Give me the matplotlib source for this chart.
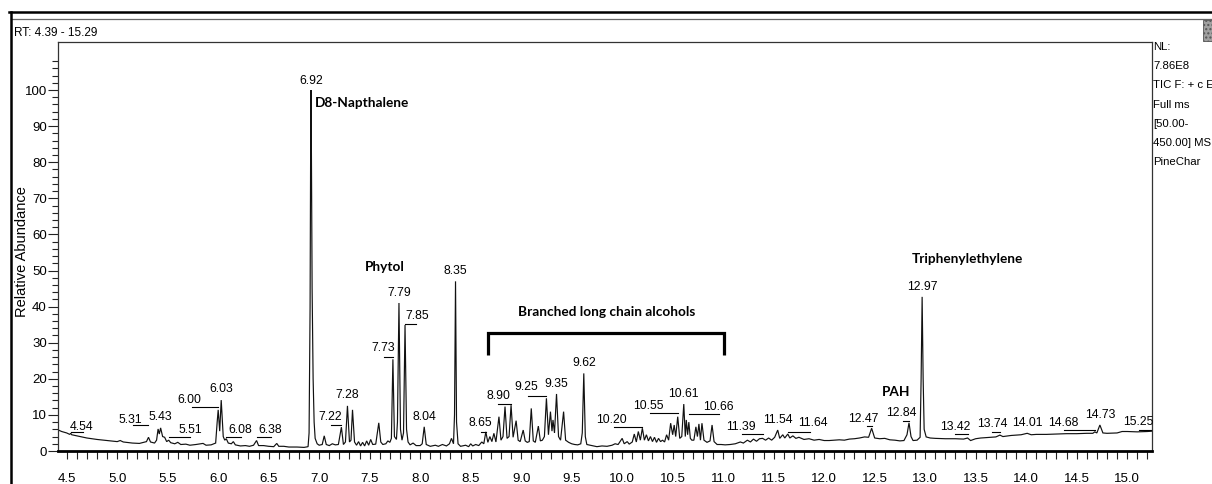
import matplotlib
matplotlib.use("Agg")
import matplotlib.pyplot as plt
from matplotlib.lines import Line2D
from matplotlib.patches import Rectangle
from matplotlib import font_manager
from matplotlib.ticker import MultipleLocator, FixedLocator, FormatStrFormatter

# ---------------------------------------------------------------- data
# Total ion chromatogram, retention time (min) vs relative abundance (%)
rt_early = [4.41, 4.45, 4.50, 4.53, 4.54, 4.55, 4.60, 4.70, 4.80, 4.90, 5.00, 5.03, 5.06,
            5.15, 5.22, 5.26, 5.29, 5.31, 5.33, 5.37, 5.39, 5.405, 5.417, 5.43, 5.45,
            5.47, 5.49, 5.51, 5.53, 5.57, 5.60, 5.63, 5.68, 5.72, 5.78, 5.85, 5.88, 5.93,
            5.975, 5.99, 6.00, 6.015, 6.03, 6.05, 6.065, 6.08, 6.10, 6.13, 6.15, 6.17,
            6.22, 6.27, 6.31, 6.35, 6.38, 6.40, 6.45, 6.50, 6.55, 6.58, 6.60, 6.65,
            6.70, 6.78, 6.85, 6.89]
ab_early = [5.9, 5.4, 5.0, 4.6, 4.9, 4.5, 4.2, 3.6, 3.2, 2.9, 2.6, 2.9, 2.5,
            2.2, 2.1, 2.4, 2.6, 3.8, 2.5, 2.2, 3.0, 6.1, 4.7, 6.4, 4.0,
            3.8, 2.6, 3.0, 2.3, 2.0, 2.4, 1.8, 1.9, 1.6, 1.8, 2.1, 1.6, 1.7,
            2.2, 8.0, 11.4, 5.5, 14.1, 4.0, 3.0, 3.4, 2.2, 2.0, 2.6, 1.7,
            1.4, 1.5, 1.3, 1.6, 2.9, 1.5, 1.5, 1.3, 1.2, 2.1, 1.3, 1.3,
            1.1, 1.1, 1.0, 1.2]

rt_mid = [6.90, 6.91, 6.915, 6.92, 6.925, 6.93, 6.94, 6.95, 6.96, 6.98, 7.00, 7.03,
          7.05, 7.07, 7.10, 7.13, 7.16, 7.19, 7.22, 7.24, 7.26, 7.28, 7.30, 7.315,
          7.33, 7.35, 7.37, 7.39, 7.41, 7.43, 7.45, 7.47, 7.49, 7.51, 7.53, 7.56,
          7.59, 7.61, 7.63, 7.66, 7.68, 7.70, 7.715, 7.73, 7.745, 7.765, 7.775, 7.79,
          7.805, 7.82, 7.835, 7.85, 7.865, 7.88, 7.90, 7.93, 7.96, 8.00, 8.02, 8.04,
          8.06, 8.10, 8.15, 8.18, 8.22, 8.26, 8.29, 8.31, 8.33, 8.34, 8.35, 8.36,
          8.375, 8.40, 8.45, 8.48, 8.50, 8.52, 8.55, 8.58, 8.61, 8.63]
ab_mid = [5.0, 40.0, 80.0, 100.0, 70.0, 45.0, 20.0, 8.0, 3.5, 2.0, 1.6, 1.8,
          4.2, 1.8, 1.5, 2.0, 1.7, 1.8, 6.6, 1.8, 2.5, 12.5, 2.5, 3.0,
          11.4, 2.5, 1.6, 2.6, 1.4, 2.4, 1.4, 2.8, 1.6, 3.2, 1.8, 1.9,
          7.8, 2.5, 1.8, 2.0, 2.8, 2.4, 3.5, 25.4, 4.0, 3.2, 8.0, 41.0,
          6.0, 3.0, 5.0, 34.9, 6.0, 2.5, 1.7, 2.2, 1.5, 1.5, 2.0, 6.7,
          1.8, 1.3, 1.6, 1.3, 1.8, 1.4, 2.0, 3.5, 2.0, 10.0, 47.0, 8.0,
          2.0, 1.3, 1.6, 1.2, 2.0, 1.4, 1.8, 1.5, 2.5, 2.0]

rt_alcohols = [8.65, 8.67, 8.69, 8.71, 8.73, 8.75, 8.78, 8.80, 8.82, 8.84, 8.86, 8.88,
               8.90, 8.92, 8.95, 8.97, 8.99, 9.02, 9.04, 9.06, 9.08, 9.10, 9.12, 9.14,
               9.17, 9.19, 9.21, 9.23, 9.25, 9.27, 9.29, 9.305, 9.315, 9.33, 9.35, 9.37,
               9.39, 9.42, 9.44, 9.47, 9.50, 9.53, 9.56, 9.59, 9.605, 9.62, 9.635, 9.65,
               9.70, 9.75, 9.80, 9.85, 9.90, 9.93, 9.96, 10.00, 10.02, 10.05, 10.07, 10.10,
               10.12, 10.14, 10.16, 10.18, 10.20, 10.22, 10.24, 10.26, 10.28, 10.30, 10.32,
               10.34, 10.36, 10.38, 10.40, 10.42, 10.44, 10.46, 10.48, 10.50, 10.515, 10.53,
               10.55, 10.57, 10.59, 10.61, 10.625, 10.635, 10.648, 10.66, 10.675, 10.69,
               10.71, 10.73, 10.745, 10.76, 10.775, 10.79, 10.81, 10.84, 10.87, 10.89,
               10.91, 10.94, 10.98]
ab_alcohols = [5.3, 2.4, 4.0, 2.6, 4.9, 2.5, 9.5, 3.0, 4.0, 12.3, 3.5, 4.0,
               12.7, 3.8, 8.4, 3.0, 2.6, 5.8, 2.8, 2.4, 2.6, 11.8, 2.8, 2.4,
               6.9, 2.8, 3.0, 4.0, 14.6, 4.5, 10.9, 5.5, 8.6, 5.0, 15.8, 4.0,
               3.0, 10.9, 3.0, 2.4, 2.0, 1.8, 1.7, 2.0, 5.0, 21.5, 4.0, 1.8,
               1.5, 1.2, 1.4, 1.3, 1.6, 2.0, 1.8, 3.5, 2.0, 2.6, 1.9, 2.5,
               4.7, 2.5, 5.4, 3.0, 6.3, 3.0, 4.5, 2.8, 4.0, 2.6, 3.8,
               2.4, 3.5, 2.6, 3.0, 2.5, 4.5, 3.0, 7.7, 4.5, 7.2, 4.0,
               9.5, 3.5, 4.0, 13.0, 4.0, 8.6, 4.5, 8.0, 3.5, 3.0,
               3.0, 6.7, 4.0, 7.5, 3.0, 7.7, 3.0, 2.4, 2.8, 7.2,
               2.6, 1.8, 1.8]

rt_late = [11.02, 11.07, 11.12, 11.17, 11.20, 11.24, 11.27, 11.30, 11.33, 11.36, 11.39,
           11.42, 11.45, 11.48, 11.51, 11.54, 11.56, 11.59, 11.61, 11.64, 11.66, 11.69,
           11.72, 11.75, 11.80, 11.85, 11.90, 11.95, 12.00, 12.05, 12.10, 12.15, 12.20,
           12.25, 12.30, 12.35, 12.40, 12.44, 12.47, 12.50, 12.55, 12.60, 12.65, 12.70,
           12.75, 12.79, 12.82, 12.84, 12.86, 12.88, 12.92, 12.95, 12.96, 12.97, 12.98,
           12.99, 13.01, 13.05, 13.10, 13.20, 13.30, 13.38, 13.42, 13.45, 13.50, 13.55,
           13.60, 13.65, 13.70, 13.74, 13.77, 13.85, 13.90, 13.95, 14.01, 14.05, 14.10,
           14.20, 14.30, 14.40, 14.50, 14.60, 14.66, 14.68, 14.70, 14.73, 14.76, 14.80,
           14.90, 14.95, 15.00, 15.10, 15.20, 15.25]
ab_late = [1.7, 1.8, 2.0, 2.5, 2.2, 3.0, 2.5, 3.3, 2.7, 3.4, 3.5,
           3.0, 3.6, 3.0, 3.8, 5.8, 3.5, 4.5, 3.6, 4.7, 3.6, 4.2,
           3.5, 3.8, 3.2, 3.4, 3.0, 3.2, 2.9, 2.9, 3.0, 3.1, 3.0,
           3.3, 3.4, 3.6, 3.9, 3.8, 6.3, 3.6, 3.4, 3.5, 3.1, 3.0,
           2.8, 2.9, 4.5, 7.8, 4.0, 2.9, 3.0, 3.8, 20.0, 42.7, 20.0,
           6.0, 3.9, 3.6, 3.5, 3.4, 3.4, 3.3, 3.6, 2.9, 3.4, 3.6,
           3.7, 3.8, 3.9, 4.4, 4.0, 4.3, 4.4, 4.5, 4.9, 4.5, 4.6,
           4.6, 4.7, 4.8, 4.8, 4.9, 4.9, 5.3, 5.0, 7.2, 5.0, 4.9,
           5.0, 5.4, 5.4, 5.3, 5.4, 5.5]

# Retention times of the labelled peaks
labelled_rt = [4.54, 5.31, 5.43, 5.51, 6.00, 6.03, 6.08, 6.38, 6.92, 7.22, 7.28, 7.73,
               7.79, 7.85, 8.04, 8.35, 8.65, 8.90, 9.25, 9.35, 9.62, 10.20, 10.55, 10.61,
               10.66, 11.39, 11.54, 11.64, 12.47, 12.84, 12.97, 13.42, 13.74, 14.01,
               14.68, 14.73, 15.25]

# Compound annotations
compound_names = ["D8-Napthalene", "Phytol", "Branched long chain alcohols",
                  "Triphenylethylene", "PAH"]

scan_info = ["NL:", "7.86E8", "TIC F: + c E", "Full ms", "[50.00-", "450.00] MS", "PineChar"]
rt_range_text = "RT: 4.39 - 15.29"

# ---------------------------------------------------------------- layout
# label text centre (x, y) and leader line (end x, y) in data units
label_layout = {
    4.54: (4.649, 6.7, 4.665, 5.2), 5.31: (5.13, 8.6, 5.155, 7.2),
    5.43: (5.43, 9.3, None, None), 5.51: (5.724, 5.8, 5.724, 3.8),
    6.00: (5.718, 14.1, 5.742, 12.1), 6.03: (6.03, 17.1, None, None),
    6.08: (6.222, 5.8, 6.228, 4.0), 6.38: (6.514, 5.8, 6.527, 3.8),
    6.92: (6.92, 102.5, None, None), 7.22: (7.109, 9.5, 7.116, 7.2),
    7.28: (7.28, 15.5, None, None), 7.73: (7.63, 28.4, 7.64, 26.1),
    7.79: (7.79, 43.9, None, None), 7.85: (7.97, 37.4, 7.962, 35.2),
    8.04: (8.04, 9.3, None, None), 8.35: (8.35, 50.0, None, None),
    8.65: (8.597, 7.8, 8.607, 5.4), 8.90: (8.773, 15.2, 8.773, 13.0),
    9.25: (9.055, 17.8, 9.071, 15.3), 9.35: (9.35, 18.6, None, None),
    9.62: (9.62, 24.5, None, None), 10.20: (9.893, 8.6, 9.916, 6.6),
    10.55: (10.263, 12.5, 10.28, 10.4), 10.61: (10.61, 15.8, None, None),
    10.66: (10.953, 12.3, 10.959, 10.2), 11.39: (11.175, 6.7, 11.191, 4.7),
    11.54: (11.54, 8.6, None, None), 11.64: (11.89, 7.7, 11.86, 5.4),
    12.47: (12.384, 9.0, 12.42, 6.9), 12.84: (12.765, 10.6, 12.78, 8.4),
    12.97: (12.97, 45.5, None, None), 13.42: (13.295, 6.7, 13.295, 4.7),
    13.74: (13.66, 7.4, 13.66, 5.4), 14.01: (14.01, 7.8, None, None),
    14.68: (14.371, 7.8, 14.371, 5.8), 14.73: (14.73, 10.0, None, None),
    15.25: (15.107, 8.1, 15.117, 5.8),
}
compound_layout = [(6.955, 96.4, "left"), (7.654, 50.9, "center"), (9.845, 38.6, "center"),
                   (13.42, 53.1, "center"), (12.71, 16.4, "center")]
bracket_span = (8.667, 11.01, 26.6, 32.8)

# ---------------------------------------------------------------- fonts
installed = {f.name for f in font_manager.fontManager.ttflist}
if "Liberation Sans Narrow" in installed:
    peak_font, peak_size = "Liberation Sans Narrow", 10.0
else:
    peak_font, peak_size = "Liberation Sans", 8.8
plain_font = "Liberation Sans"
bold_font = "Lato"

# ---------------------------------------------------------------- figure
W, H = 1212, 484
fig = plt.figure(figsize=(W / 100, H / 100), dpi=100)
fig.patch.set_facecolor("white")


def fx(px):
    return px / W


def fy(py):
    return 1 - py / H


# window chrome
fig.add_artist(Line2D([fx(9), fx(W)], [fy(12), fy(12)], color="black", lw=1.8))
fig.add_artist(Line2D([fx(11), fx(W)], [fy(18.5), fy(18.5)], color="#666666", lw=0.9))
fig.add_artist(Line2D([fx(10.5), fx(10.5)], [fy(12), fy(H)], color="black", lw=1.8))
fig.add_artist(Rectangle((fx(1203), fy(41)), fx(9), fy(20) - fy(41), facecolor="#a0a0a0",
                         edgecolor="#555555", lw=0.6, hatch="....", transform=fig.transFigure))
fig.text(fx(14), fy(33), rt_range_text, fontsize=8.5, family=plain_font, va="center", ha="left")

for i, line in enumerate(scan_info):
    fig.text(fx(1153), fy(47 + 19.2 * i), line, fontsize=8.2, family=plain_font,
             va="center", ha="left")

fig.text(fx(22), fy(252), "Relative Abundance", rotation=90, fontsize=10.5,
         family=plain_font, va="center", ha="center")

ax = fig.add_axes([fx(58), fy(451), fx(1152) - fx(58), fy(42) - fy(451)])
ax.set_xlim(4.414, 15.246)
ax.set_ylim(0, 113.3)

rt = rt_early + rt_mid + rt_alcohols + rt_late
ab = ab_early + ab_mid + ab_alcohols + ab_late
ax.plot(rt, ab, color="#111111", lw=0.85, solid_joinstyle="miter")

# peak labels with leader lines
for r in labelled_rt:
    tx, ty, lx, ly = label_layout[r]
    ax.text(tx, ty, f"{r:.2f}", fontsize=peak_size, family=peak_font,
            ha="center", va="center")
    if lx is not None:
        ax.plot([min(r, lx), max(r, lx)], [ly, ly], color="black", lw=0.8)

# compound annotations
for name, (cx, cy, ha) in zip(compound_names, compound_layout):
    ax.text(cx, cy, name, fontsize=9.8, family=bold_font, fontweight="bold",
            ha=ha, va="center")

b0, b1, blo, bhi = bracket_span
ax.plot([b0, b0, b1, b1], [blo, bhi, bhi, blo], color="black", lw=2.3,
        solid_joinstyle="miter", solid_capstyle="butt")

# axes styling
for side in ("top", "left", "right"):
    ax.spines[side].set_color("#333333")
    ax.spines[side].set_linewidth(0.9)
ax.spines["bottom"].set_color("black")
ax.spines["bottom"].set_linewidth(2.0)

ax.yaxis.set_major_locator(FixedLocator(list(range(0, 101, 10))))
ax.yaxis.set_minor_locator(FixedLocator([v for v in range(0, 110, 2) if v % 10]))
ax.xaxis.set_major_locator(MultipleLocator(0.5))
ax.xaxis.set_minor_locator(MultipleLocator(0.1))
ax.xaxis.set_major_formatter(FormatStrFormatter("%.1f"))

ax.tick_params(axis="y", which="major", length=7, width=0.8, direction="out", pad=1,
               labelsize=9.5, color="#222222")
ax.tick_params(axis="y", which="minor", length=4, width=0.8, direction="out", color="#222222")
ax.tick_params(axis="x", which="both", length=6, width=0.8, direction="out", color="#222222")
ax.tick_params(axis="x", which="major", pad=10, labelsize=9.5)
for lab in ax.get_xticklabels() + ax.get_yticklabels():
    lab.set_family(plain_font)

fig.savefig("out.png", dpi=100)
